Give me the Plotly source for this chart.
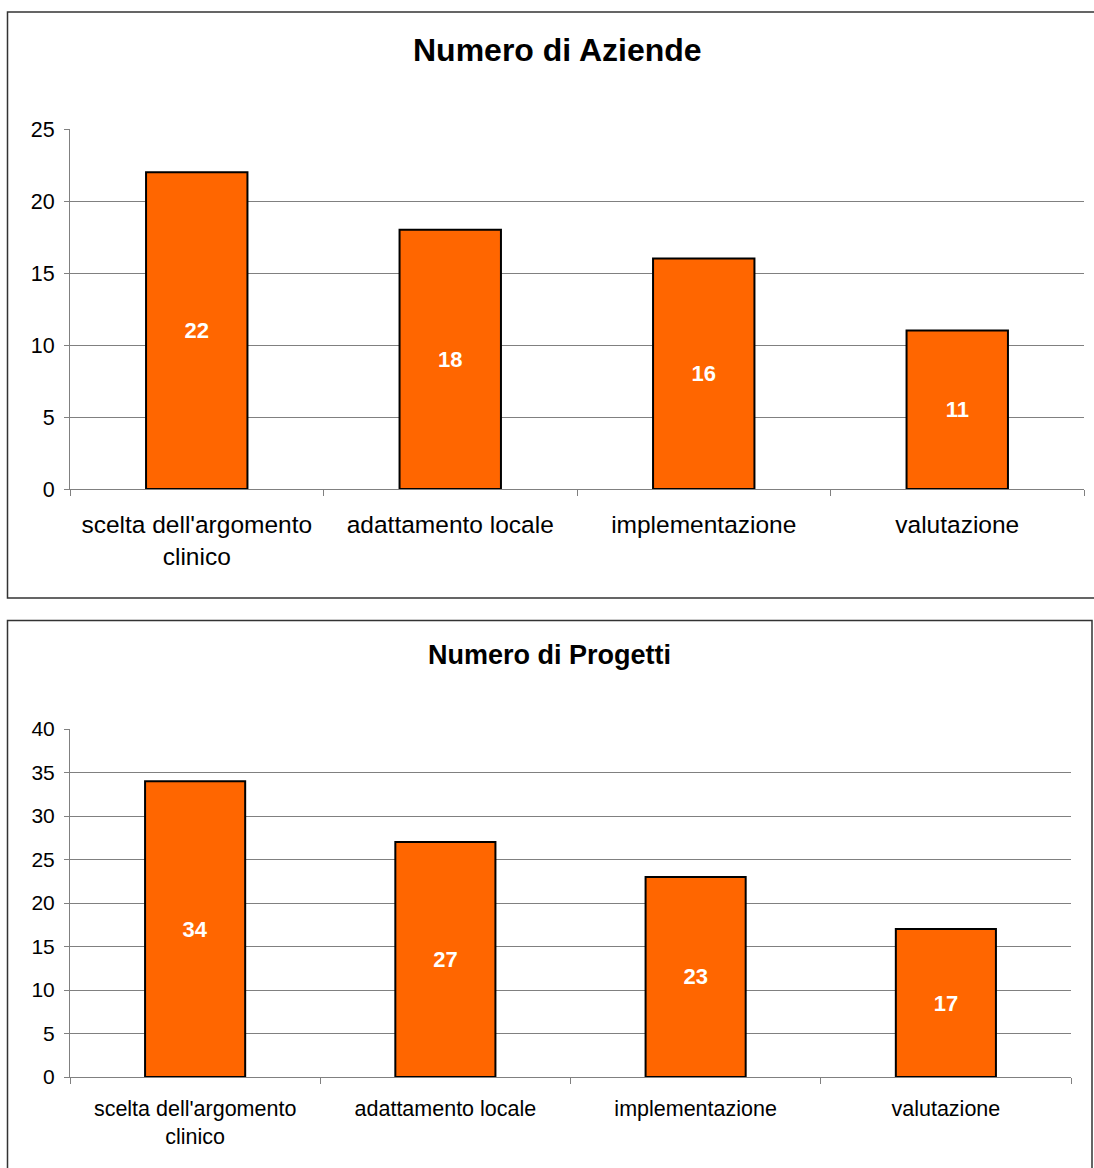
import plotly.graph_objects as go

W, H = 1094, 1168

categories = ["scelta dell'argomento<br>clinico", "adattamento locale", "implementazione", "valutazione"]
aziende = [22, 18, 16, 11]
progetti = [34, 27, 23, 17]
title_top = "Numero di Aziende"
title_bottom = "Numero di Progetti"
ticks_top = [0, 5, 10, 15, 20, 25]
ticks_bottom = [0, 5, 10, 15, 20, 25, 30, 35, 40]

ORANGE = "#FF6600"
GRID = "#808080"
FONT = "Liberation Sans, Arial, sans-serif"

def px(x):
    return x / W

def py(y):
    return 1 - y / H

fig = go.Figure()

fig.add_trace(go.Bar(
    x=categories, y=aziende, width=0.4,
    marker=dict(color=ORANGE, line=dict(color="black", width=2)),
    text=["<b>%d</b>" % v for v in aziende], textposition="inside", insidetextanchor="middle",
    textfont=dict(color="white", size=22, family=FONT), textangle=0,
    xaxis="x", yaxis="y", showlegend=False, hoverinfo="skip",
))
fig.add_trace(go.Bar(
    x=categories, y=progetti, width=0.4,
    marker=dict(color=ORANGE, line=dict(color="black", width=2)),
    text=["<b>%d</b>" % v for v in progetti], textposition="inside", insidetextanchor="middle",
    textfont=dict(color="white", size=22, family=FONT), textangle=0,
    xaxis="x2", yaxis="y2", showlegend=False, hoverinfo="skip",
))

common_x = dict(
    type="category", showgrid=False, zeroline=False,
    showline=True, linecolor=GRID, linewidth=1,
    ticks="outside", tickson="boundaries", ticklen=6, tickcolor=GRID,
    fixedrange=True, automargin=False,
)
common_y = dict(
    showgrid=True, gridcolor=GRID, gridwidth=1, zeroline=False,
    showline=True, linecolor=GRID, linewidth=1,
    ticks="outside", ticklen=5, tickcolor=GRID,
    fixedrange=True, automargin=False,
)

fig.update_layout(
    width=W, height=H, autosize=False,
    margin=dict(l=0, r=0, t=0, b=0, pad=0),
    paper_bgcolor="white", plot_bgcolor="white",
    font=dict(family=FONT, color="black"),
    xaxis=dict(domain=[px(70), px(1084)], anchor="y", ticklabelstandoff=14,
               tickfont=dict(size=24.5, family=FONT, color="black"), **common_x),
    yaxis=dict(domain=[py(489), py(129)], anchor="x", range=[0, 25], ticklabelstandoff=5,
               tickvals=ticks_top, tickfont=dict(size=21.5, family=FONT, color="black"), **common_y),
    xaxis2=dict(domain=[px(70), px(1071)], anchor="y2", ticklabelstandoff=12,
                tickfont=dict(size=21.5, family=FONT, color="black"), **common_x),
    yaxis2=dict(domain=[py(1077), py(729)], anchor="x2", range=[0, 40], ticklabelstandoff=5,
                tickvals=ticks_bottom, tickfont=dict(size=21, family=FONT, color="black"), **common_y),
    shapes=[
        dict(type="rect", xref="paper", yref="paper",
             x0=px(7.5), x1=px(1098), y0=py(598), y1=py(12),
             line=dict(color="#333333", width=1.5), fillcolor="rgba(0,0,0,0)", layer="below"),
        dict(type="rect", xref="paper", yref="paper",
             x0=px(7.5), x1=px(1092), y0=py(1172), y1=py(620.5),
             line=dict(color="#333333", width=1.5), fillcolor="rgba(0,0,0,0)", layer="below"),
    ],
    annotations=[
        dict(text="<b>" + title_top + "</b>", xref="paper", yref="paper",
             x=px(557), y=py(50), xanchor="center", yanchor="middle", showarrow=False,
             font=dict(size=32, family=FONT, color="black")),
        dict(text="<b>" + title_bottom + "</b>", xref="paper", yref="paper",
             x=px(549), y=py(655), xanchor="center", yanchor="middle", showarrow=False,
             font=dict(size=27, family=FONT, color="black")),
    ],
)

fig.write_html("out.html")
